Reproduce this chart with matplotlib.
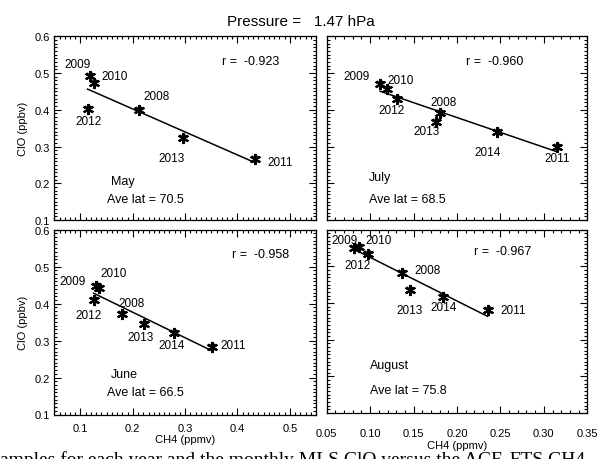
import numpy as np
import matplotlib
matplotlib.use("Agg")
import matplotlib.pyplot as plt
from matplotlib.ticker import MultipleLocator

plt.rcParams['font.family'] = ['Liberation Sans', 'DejaVu Sans']

# ClO vs CH4 at 1.47 hPa, one panel per month
months = ['May', 'July', 'June', 'August']
ave_lat = [70.5, 68.5, 66.5, 75.8]
r_text = ['-0.923', '-0.960', '-0.958', '-0.967']

years_may = [2008, 2009, 2010, 2011, 2012, 2013]
ch4_may = [0.211, 0.118, 0.126, 0.433, 0.1135, 0.296]
clo_may = [0.400, 0.491, 0.472, 0.265, 0.402, 0.322]

years_jul = [2008, 2009, 2010, 2011, 2012, 2013, 2014]
ch4_jul = [0.180, 0.1114, 0.1198, 0.3155, 0.1306, 0.1755, 0.2464]
clo_jul = [0.391, 0.469, 0.457, 0.298, 0.429, 0.366, 0.340]

years_jun = [2008, 2009, 2010, 2011, 2012, 2013, 2014]
ch4_jun = [0.180, 0.1306, 0.1356, 0.352, 0.125, 0.2205, 0.278]
clo_jun = [0.371, 0.447, 0.442, 0.283, 0.411, 0.346, 0.321]

years_aug = [2008, 2009, 2010, 2011, 2012, 2013, 2014]
ch4_aug = [0.137, 0.0818, 0.0872, 0.2353, 0.0979, 0.1455, 0.1835]
clo_aug = [0.481, 0.5505, 0.553, 0.382, 0.533, 0.436, 0.417]

# year label offsets from each point, in pixels
offs = [
    {2009: (-12, 12), 2010: (21, 7), 2008: (18, 14), 2012: (1, -12),
     2013: (-11, -20), 2011: (25, -3)},
    {2009: (-23, 8), 2010: (13, 9), 2012: (-5, -11), 2008: (4, 11),
     2013: (-9, -9), 2014: (-10, -20), 2011: (0, -11)},
    {2009: (-24, 5), 2010: (15, 15), 2012: (-5, -15), 2008: (9, 11),
     2013: (-3, -13), 2014: (-2, -12), 2011: (21, 2)},
    {2009: (-10, 8), 2010: (20, 7), 2012: (-11, -11), 2008: (25, 3),
     2013: (0, -20), 2014: (1, -10), 2011: (26, 0)},
]
# (r text, month name, ave lat) positions in axes fraction
txt_pos = [
    ((0.640, 0.867), (0.215, 0.214), (0.200, 0.114)),
    ((0.533, 0.867), (0.163, 0.232), (0.163, 0.114)),
    ((0.680, 0.869), (0.215, 0.219), (0.200, 0.122)),
    ((0.566, 0.884), (0.166, 0.263), (0.166, 0.126)),
]

data = [(years_may, ch4_may, clo_may), (years_jul, ch4_jul, clo_jul),
        (years_jun, ch4_jun, clo_jun), (years_aug, ch4_aug, clo_aug)]

W, H = 601, 460
fig = plt.figure(figsize=(W / 100, H / 100), dpi=100)

boxes = [(54.3, 37.3, 316.0, 221.0), (326.7, 37.3, 587.3, 221.0),
         (54.3, 230.7, 316.0, 415.5), (326.7, 230.7, 587.3, 414.0)]
axes = []
for (x0, y0, x1, y1) in boxes:
    axes.append(fig.add_axes([x0 / W, 1 - y1 / H, (x1 - x0) / W, (y1 - y0) / H]))

star = (6, 2, 0)
for i, ax in enumerate(axes):
    yrs, x, y = data[i]
    x = np.array(x); y = np.array(y)
    left = i in (0, 2)
    bottom = i in (2, 3)

    ax.plot(x, y, linestyle='none', marker=star, ms=8, mew=1.5, color='black')
    ax.plot(x, y, linestyle='none', marker='x', ms=5, mew=1.3, color='black')
    k, b = np.polyfit(x, y, 1)
    xf = np.array([x.min(), x.max()])
    ax.plot(xf, k * xf + b, color='black', lw=1.1)

    for yr, xi, yi in zip(yrs, x, y):
        dx, dy = offs[i][yr]
        ax.annotate(str(yr), (xi, yi), xytext=(dx, dy), textcoords='offset pixels',
                    ha='center', va='center', fontsize=8.5)

    rp, mp, lp = txt_pos[i]
    ax.text(*rp, 'r =  ' + r_text[i], transform=ax.transAxes, fontsize=9, va='center')
    ax.text(*mp, months[i], transform=ax.transAxes, fontsize=9, va='center')
    ax.text(*lp, 'Ave lat = %.1f' % ave_lat[i], transform=ax.transAxes, fontsize=9, va='center')

    ax.set_ylim(0.1, 0.6)
    ax.yaxis.set_major_locator(MultipleLocator(0.1))
    ax.yaxis.set_minor_locator(MultipleLocator(0.01))
    if left:
        ax.set_xlim(0.05, 0.55)
        ax.xaxis.set_major_locator(MultipleLocator(0.1))
        ax.xaxis.set_minor_locator(MultipleLocator(0.01))
    else:
        ax.set_xlim(0.05, 0.35)
        ax.xaxis.set_major_locator(MultipleLocator(0.05))
        ax.xaxis.set_minor_locator(MultipleLocator(0.01))
        ax.xaxis.set_major_formatter(plt.FormatStrFormatter('%.2f'))

    ax.tick_params(which='both', direction='in', top=True, right=True, width=0.8)
    ax.tick_params(which='major', length=5)
    ax.tick_params(which='minor', length=2)
    ax.tick_params(labelsize=8)
    ax.tick_params(axis='y', pad=3)
    ax.tick_params(axis='x', pad=6 if left else 11)
    for s in ax.spines.values():
        s.set_linewidth(0.9)

    if left:
        ax.set_ylabel('ClO (ppbv)', fontsize=8, labelpad=5)
    else:
        ax.tick_params(labelleft=False)
    if bottom:
        ax.set_xlabel('CH4 (ppmv)', fontsize=8, labelpad=1 if left else 1.5)
    else:
        ax.tick_params(labelbottom=False)

fig.text(0.5, 1 - 21.7 / H, 'Pressure =   1.47 hPa', ha='center', va='center', fontsize=11)

# caption line of the page, cut off by the lower edge
fig.text(0.0, 1 - 465 / H, 'amples for each year and the monthly MLS ClO versus the ACE-FTS CH4',
         ha='left', va='baseline', fontsize=14, family='Liberation Serif')

fig.savefig('out.png', dpi=100)
